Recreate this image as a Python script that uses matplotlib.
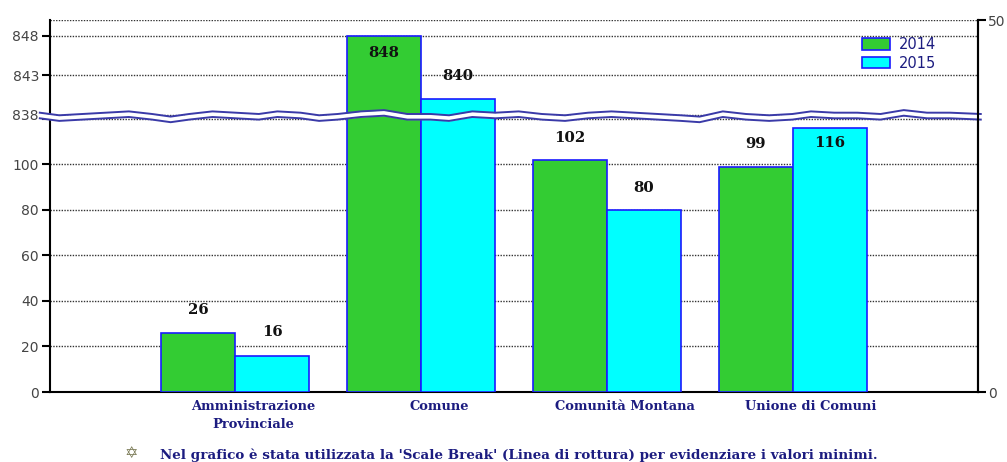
import numpy as np
import matplotlib
matplotlib.use("Agg")
import matplotlib.pyplot as plt
import matplotlib.transforms as mtransforms
from matplotlib.patches import Patch

categories = ["Amministrazione\nProvinciale", "Comune", "Comunità Montana", "Unione di Comuni"]
values_2014 = [26, 848, 102, 99]
values_2015 = [16, 840, 80, 116]
series_names = ["2014", "2015"]
left_ticks = [0, 20, 40, 60, 80, 100, 120, 838, 843, 848]
left_labels = ["0", "20", "40", "60", "80", "100", "", "838", "843", "848"]
grid_values = [20, 40, 60, 80, 100, 120, 838, 843, 848, 850]
# label offsets in px (positive: above bar, negative: inside bar)
off_2014 = [23, -17, 22, 23]
off_2015 = [24, 23, 22, -15]
footnote = "Nel grafico è stata utilizzata la 'Scale Break' (Linea di rottura) per evidenziare i valori minimi."

# scale break: piecewise-linear mapping
BRK_V = [-1000, 0, 120, 838, 850, 5000]
BRK_Y = [-2280, 0, 273.6, 278, 372.8, 372.8 + 4150 * 7.9]

def fwd(v):
    return np.interp(v, BRK_V, BRK_Y)

def inv(y):
    return np.interp(y, BRK_Y, BRK_V)

W, H = 1007, 462
fig = plt.figure(figsize=(W / 100, H / 100), dpi=100)
ax = fig.add_axes([50 / W, (H - 392) / H, (978 - 50) / W, (392 - 20) / H])
ax.set_yscale("function", functions=(fwd, inv))
ax.set_ylim(0, 850)
ax.set_xlim(-0.995, 3.995)

navy = "#1c1c80"
green = "#33cc33"
cyan = "#00ffff"
edge = "#1a1aff"
serif = "DejaVu Serif"

for g in grid_values:
    ax.axhline(g, color="#333333", lw=1.0, ls=(0, (1, 1)), zorder=1)

x = np.arange(len(categories))
bw = 0.398
ax.bar(x - bw / 2, values_2014, bw, color=green, edgecolor=edge, lw=1.2, zorder=3, label=series_names[0])
ax.bar(x + bw / 2, values_2015, bw, color=cyan, edgecolor=edge, lw=1.2, zorder=3, label=series_names[1])

for xs, vals, offs in ((x - bw / 2, values_2014, off_2014), (x + bw / 2, values_2015, off_2015)):
    for xi, v, o in zip(xs, vals, offs):
        ax.annotate(str(v), (xi, v), xytext=(0, o * 0.72), textcoords="offset points",
                    ha="center", va="center", fontsize=10.7, fontweight="bold",
                    family=serif, color="#111111", zorder=6)

ax.spines["top"].set_visible(False)
ax.spines["left"].set_linewidth(1.5)
ax.spines["bottom"].set_linewidth(1.5)
ax.spines["right"].set_linewidth(1.5)

ax.set_yticks(left_ticks)
ax.set_yticklabels(left_labels)
ax.yaxis.set_minor_locator(matplotlib.ticker.NullLocator())
ax.tick_params(axis="y", direction="out", length=6, width=1.5, labelsize=10,
               labelcolor="#444444", pad=2)

ax.set_xticks(x)
ax.set_xticklabels(categories, fontsize=9.4, fontweight="bold", family=serif,
                   color=navy, linespacing=1.5)
ax.tick_params(axis="x", length=0, pad=6)
shift = mtransforms.ScaledTranslation(0.18, 0, fig.dpi_scale_trans)
for t in ax.get_xticklabels():
    t.set_transform(t.get_transform() + shift)

# right axis
ax2 = ax.twinx()
ax2.set_ylim(0, 50)
ax2.set_yticks([0, 50])
ax2.tick_params(axis="y", direction="out", length=6, width=1.5, labelsize=10,
                labelcolor="#444444", pad=1)
for s in ["top", "left", "bottom"]:
    ax2.spines[s].set_visible(False)
ax2.spines["right"].set_linewidth(1.5)

# scale break wave
ytop = fwd(850)
yc = (fwd(120) + fwd(838)) / 2 / ytop
wave_x = [-0.011, 0.01, 0.035, 0.06, 0.085, 0.11, 0.13, 0.15, 0.175, 0.20, 0.225, 0.245, 0.27, 0.29,
          0.31, 0.335, 0.36, 0.385, 0.41, 0.43, 0.455, 0.48, 0.505, 0.53, 0.555, 0.58, 0.605,
          0.63, 0.655, 0.68, 0.70, 0.725, 0.75, 0.775, 0.80, 0.82, 0.845, 0.87, 0.895, 0.92,
          0.945, 0.97, 1.003]
wave_p = [1, -1, 0, 1, 2, 0, -2, 0, 2, 1, 0, 2, 1, -1, 0, 2, 3, 0, 0, -1, 2, 1, 2, 0, -1,
          1, 2, 1, 0, -1, -2, 2, 0, -1, 0, 2, 1, 1, 0, 3, 1, 1, 0]
wx = np.array(wave_x)
wy = yc + np.array(wave_p) * 1.3 / (392 - 20)
half = 2.8 / (392 - 20)
ax.fill_between(wx, wy - half, wy + half, transform=ax.transAxes, color="white",
                zorder=5, clip_on=False, lw=0)
ax.plot(wx, wy + half, transform=ax.transAxes, color="#3a3aa8", lw=1.4, zorder=5, clip_on=False)
ax.plot(wx, wy - half, transform=ax.transAxes, color="#3a3aa8", lw=1.4, zorder=5, clip_on=False)

# legend
leg = ax.legend(handles=[Patch(facecolor=green, edgecolor=edge, lw=1.2, label=series_names[0]),
                         Patch(facecolor=cyan, edgecolor=edge, lw=1.2, label=series_names[1])],
                loc="upper left", bbox_to_anchor=((862 - 50) / 928, (392 - 37) / 372),
                frameon=False, fontsize=10.5, handlelength=1.95, handleheight=0.85,
                handletextpad=0.55, labelspacing=0.25, borderpad=0, borderaxespad=0)
for t in leg.get_texts():
    t.set_color(navy)

# footnote
fig.text(131 / W, 1 - 453 / H, "\u2721", fontsize=11.5, color="#7a7a55", va="center", ha="center",
         family="DejaVu Sans", fontweight="bold")
fig.text(160 / W, 1 - 455 / H, footnote, fontsize=9.7, fontweight="bold", color=navy,
         va="center", ha="left", family=serif)

fig.savefig("out.png", dpi=100)
